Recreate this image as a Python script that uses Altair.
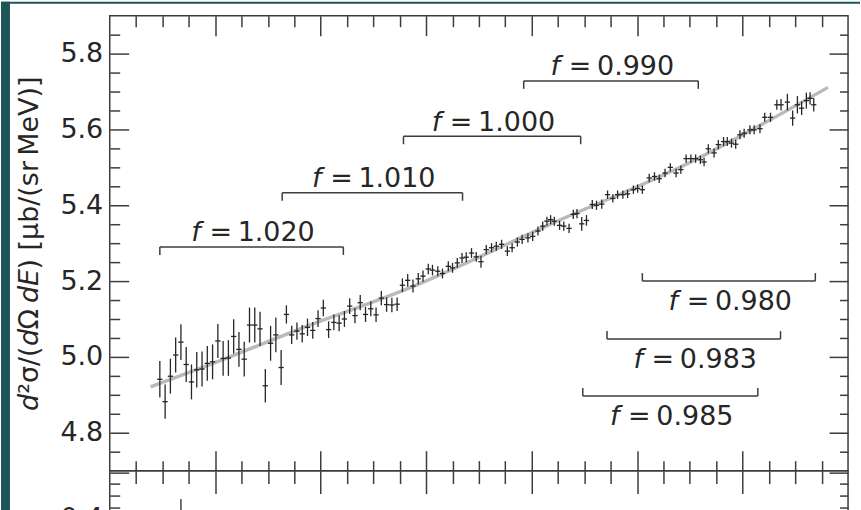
import altair as alt
import pandas as pd

# ---------------------------------------------------------------
# Measured spectrum: bin centres (MeV), cross sections, stat. errors
# ---------------------------------------------------------------
energy = [
    89.5, 90.5, 91.5, 92.5, 93.5, 94.5, 95.5, 96.5, 97.5, 98.5, 99.5, 100.5,
    101.5, 102.5, 103.5, 104.5, 105.5, 106.5, 107.5, 108.5, 109.5, 110.5, 111.5, 112.5,
    113.5, 114.5, 115.5, 116.5, 117.5, 118.5, 119.5, 120.5, 121.5, 122.5, 123.5, 124.5,
    125.5, 126.5, 127.5, 128.5, 129.5, 130.5, 131.5, 132.5, 133.5, 134.5, 135.5, 136.5, 137.5,
    138.5, 139.4, 140.4, 141.2, 142.2, 143.1, 144.2, 145.0, 145.9, 146.8, 147.6, 148.6,
    149.5, 150.4, 151.4, 152.4, 153.3, 154.3, 155.4, 156.3, 157.3, 158.2, 159.3, 160.2,
    161.2, 162.1, 162.9, 163.6, 164.3, 165.3, 166.1, 167.1, 167.9, 168.6, 169.5, 170.4,
    171.5, 172.3, 173.3, 174.4, 175.4, 176.3, 177.3, 178.2, 179.3, 180.1, 181.0, 182.3,
    183.3, 184.2, 185.3, 186.3, 187.4, 188.3, 189.3, 190.2, 191.1, 192.0, 192.7, 193.5,
    194.6, 195.4, 196.4, 197.1, 197.9, 198.7, 199.5, 200.3, 201.4, 202.2, 203.3, 204.2,
    205.3, 206.5, 207.3, 208.5, 209.5, 210.4, 211.2, 212.1, 212.8, 213.5,
]
xsec = [
    4.941, 4.882, 4.949, 5.005, 5.039, 4.980, 4.934, 4.966, 4.968, 4.983, 4.987, 5.042,
    4.996, 4.997, 5.054, 5.020, 4.994, 5.084, 5.084, 5.074, 4.924, 5.036, 5.058, 4.972,
    5.112, 5.058, 5.068, 5.061, 5.078, 5.070, 5.101, 5.129, 5.072, 5.091, 5.089, 5.100,
    5.134, 5.109, 5.143, 5.112, 5.127, 5.111, 5.155, 5.138, 5.137, 5.139, 5.189, 5.202, 5.187,
    5.206, 5.213, 5.232, 5.229, 5.226, 5.220, 5.239, 5.235, 5.248, 5.261, 5.263, 5.274,
    5.264, 5.251, 5.283, 5.288, 5.292, 5.297, 5.279, 5.288, 5.303, 5.310, 5.314, 5.318,
    5.332, 5.345, 5.358, 5.362, 5.358, 5.347, 5.345, 5.339, 5.376, 5.378, 5.351, 5.360,
    5.402, 5.400, 5.403, 5.428, 5.418, 5.428, 5.428, 5.430, 5.441, 5.444, 5.441, 5.472,
    5.476, 5.470, 5.485, 5.500, 5.485, 5.494, 5.523, 5.523, 5.523, 5.520, 5.514, 5.549,
    5.538, 5.560, 5.568, 5.568, 5.564, 5.561, 5.586, 5.590, 5.599, 5.599, 5.602, 5.632,
    5.632, 5.665, 5.665, 5.672, 5.630, 5.665, 5.656, 5.676, 5.682, 5.665,
]
xsec_err = [
    0.048, 0.045, 0.046, 0.046, 0.047, 0.046, 0.046, 0.047, 0.046, 0.046, 0.046, 0.045,
    0.046, 0.047, 0.045, 0.046, 0.046, 0.046, 0.046, 0.045, 0.044, 0.046, 0.046, 0.046,
    0.024, 0.024, 0.023, 0.023, 0.023, 0.022, 0.022, 0.022, 0.022, 0.021, 0.021, 0.021,
    0.021, 0.020, 0.020, 0.020, 0.020, 0.019, 0.019, 0.019, 0.019, 0.018, 0.018, 0.017, 0.017,
    0.015, 0.015, 0.014, 0.014, 0.013, 0.013, 0.013, 0.013, 0.013, 0.013, 0.013, 0.013,
    0.013, 0.016, 0.012, 0.012, 0.012, 0.012, 0.013, 0.012, 0.012, 0.012, 0.012, 0.012,
    0.012, 0.012, 0.012, 0.012, 0.012, 0.012, 0.012, 0.012, 0.012, 0.012, 0.018, 0.014,
    0.012, 0.012, 0.012, 0.011, 0.011, 0.011, 0.011, 0.011, 0.011, 0.011, 0.011, 0.011,
    0.011, 0.011, 0.011, 0.011, 0.011, 0.011, 0.011, 0.011, 0.011, 0.011, 0.011, 0.012,
    0.012, 0.012, 0.012, 0.012, 0.012, 0.012, 0.012, 0.012, 0.012, 0.012, 0.012, 0.012,
    0.012, 0.013, 0.015, 0.022, 0.020, 0.023, 0.018, 0.021, 0.016, 0.018,
]

# Smooth fit through the spectrum
fit_energy = [87.75, 100.0, 116.1, 137.2, 163.4, 189.9, 216.2]
fit_xsec = [4.921, 4.985, 5.074, 5.184, 5.349, 5.512, 5.711]

# Normalisation factors f and the energy ranges they apply to
f_value = ["1.020", "1.010", "1.000", "0.990", "0.980", "0.983", "0.985"]
f_start = [89.5, 112.7, 135.7, 158.5, 181.0, 174.3, 169.7]
f_end = [124.3, 146.9, 169.3, 191.6, 213.8, 207.2, 202.9]
f_level = [5.290, 5.433, 5.582, 5.728, 5.200, 5.047, 4.897]
f_side = ["upper", "upper", "upper", "upper", "lower", "lower", "lower"]

# Lower panel: the one bin whose error bar reaches its top edge
lower_energy = [93.5]
lower_val = [0.40]
lower_err = [0.085]

# ---------------------------------------------------------------
FONT = "DejaVu Sans"
INK = "#262626"
FRAME = "#3d3d3d"
TEAL = "#1d5659"
W, H, H2 = 740, 456, 142
FS = 27

spec = pd.DataFrame({"energy": energy, "xsec": xsec, "err": xsec_err})
fit = pd.DataFrame({"energy": fit_energy, "xsec": fit_xsec})
norm = pd.DataFrame({"f": f_value, "start": f_start, "end": f_end,
                     "level": f_level, "side": f_side})
lower = pd.DataFrame({"energy": lower_energy, "val": lower_val, "err": lower_err})

x_scale = alt.Scale(domain=[80, 220], nice=False, zero=False)
y_scale = alt.Scale(domain=[4.7, 5.9], nice=False, zero=False)
r_scale = alt.Scale(domain=[0.0, 0.607], nice=False, zero=False)

x_minor = list(range(85, 220, 5))
y_minor = [round(4.75 + 0.05 * i, 2) for i in range(23)]
r_minor = [round(0.05 * i, 2) for i in range(1, 13)]

X_MAJOR = "datum.value % 20 === 0"
Y_MAJOR = "abs(datum.value * 5 - round(datum.value * 5)) < 1e-6"


def inner_ticks(orient, offset, values, test, major, minor):
    """Frame ticks pointing into the plot (axis moved onto the opposite edge)."""
    return alt.Axis(orient=orient, offset=offset, values=values, labels=False,
                    domain=False, grid=False, ticks=True, tickColor=FRAME,
                    tickWidth=1.5,
                    tickSize={"condition": {"test": test, "value": major},
                              "value": minor})


Y_TITLE = ("\U0001D625\u00b2\u03c3/(\U0001D625\u03a9\u2009\U0001D625\U0001D60C)"
           " [\u03bcb/(sr\u2009MeV)]")

y_labels = alt.Axis(orient="left", values=[4.8, 5.0, 5.2, 5.4, 5.6, 5.8],
                    format=".1f", ticks=False, tickSize=0, domain=False,
                    grid=False, labelFont=FONT, labelFontSize=FS,
                    labelColor=INK, labelPadding=7, title=Y_TITLE,
                    titleFont=FONT, titleFontSize=FS, titleFontWeight="normal",
                    titleColor=INK, titlePadding=16)

r_labels = alt.Axis(orient="left", values=[0.0, 0.2, 0.4], format=".1f",
                    ticks=False, tickSize=0, domain=False, grid=False,
                    labelFont=FONT, labelFontSize=FS, labelColor=INK,
                    labelPadding=7)

# Slide border strips (left and top)
one = alt.Chart(pd.DataFrame({"k": [0]}))
left_strip = one.mark_rect(color=TEAL).encode(
    x=alt.value(-109), x2=alt.value(-100), y=alt.value(-14), y2=alt.value(H + H2 + 20))
top_strip = one.mark_rect(color=TEAL).encode(
    x=alt.value(-109), x2=alt.value(752), y=alt.value(-14), y2=alt.value(-12))

fit_line = alt.Chart(fit).mark_line(
    color="#bababa", strokeWidth=3.4, interpolate="monotone").encode(
    x=alt.X("energy:Q", scale=x_scale, title=None,
            axis=inner_ticks("bottom", -H, x_minor, X_MAJOR, 20, 11)),
    y=alt.Y("xsec:Q", scale=y_scale, axis=y_labels),
)

vbars = alt.Chart(spec).transform_calculate(
    lo="datum.xsec - datum.err", hi="datum.xsec + datum.err"
).mark_rule(color=INK, strokeWidth=1.3).encode(
    x=alt.X("energy:Q", scale=x_scale, title=None,
            axis=inner_ticks("top", -H, x_minor, X_MAJOR, 20, 10)),
    y=alt.Y("lo:Q", scale=y_scale, title=None,
            axis=inner_ticks("right", -W, y_minor, Y_MAJOR, 19, 10)),
    y2="hi:Q",
)

hbars = alt.Chart(spec).transform_calculate(
    a="datum.energy - 0.5", b="datum.energy + 0.5"
).mark_rule(color=INK, strokeWidth=1.3).encode(
    x=alt.X("a:Q", scale=x_scale, axis=None),
    x2="b:Q",
    y=alt.Y("xsec:Q", scale=y_scale, title=None,
            axis=inner_ticks("left", -W, y_minor, Y_MAJOR, 19, 8.5)),
)

bracket_line = alt.Chart(norm).mark_rule(color=FRAME, strokeWidth=1.5).encode(
    x=alt.X("start:Q", scale=x_scale, axis=None),
    x2="end:Q",
    y=alt.Y("level:Q", scale=y_scale, axis=None),
)

ends = alt.Chart(norm).transform_fold(["start", "end"], as_=["edge", "ex"])
ends_enc = dict(
    x=alt.X("ex:Q", scale=x_scale, axis=None),
    y=alt.Y("level:Q", scale=y_scale, axis=None),
    y2="level:Q",
)
ends_up = ends.transform_filter("datum.side === 'upper'").mark_rule(
    color=FRAME, strokeWidth=1.5, y2Offset=8).encode(**ends_enc)
ends_down = ends.transform_filter("datum.side === 'lower'").mark_rule(
    color=FRAME, strokeWidth=1.5, y2Offset=-8).encode(**ends_enc)

labels = alt.Chart(norm).transform_calculate(mid="(datum.start + datum.end) / 2")
lab_enc = dict(
    x=alt.X("mid:Q", scale=x_scale, axis=None),
    y=alt.Y("level:Q", scale=y_scale, axis=None),
)


def f_text(side, dy):
    """'f = value' label: italic f, equals sign and the value as three pieces."""
    base = labels.transform_filter(f"datum.side === '{side}'")
    common = dict(font=FONT, fontSize=FS, baseline="alphabetic", dy=dy, color=INK)
    f_part = base.mark_text(fontStyle="italic", align="right", dx=-51,
                            **common).encode(text=alt.value("f"), **lab_enc)
    eq_part = base.mark_text(align="center", dx=-31,
                             **common).encode(text=alt.value("="), **lab_enc)
    val_part = base.mark_text(align="left", dx=-14,
                              **common).encode(text="f:N", **lab_enc)
    return [f_part, eq_part, val_part]


top = alt.layer(
    left_strip, top_strip, fit_line, vbars, hbars,
    bracket_line, ends_up, ends_down,
    *f_text("upper", -5.5), *f_text("lower", 29),
).resolve_axis(x="independent", y="independent").properties(width=W, height=H)

low_v = alt.Chart(lower).transform_calculate(
    lo="datum.val - datum.err", hi="datum.val + datum.err"
).mark_rule(color=INK, strokeWidth=1.3).encode(
    x=alt.X("energy:Q", scale=x_scale, title=None,
            axis=inner_ticks("bottom", -H2, x_minor, X_MAJOR, 23, 13)),
    y=alt.Y("lo:Q", scale=r_scale, title=None, axis=r_labels),
    y2="hi:Q",
)
low_h = alt.Chart(lower).transform_calculate(
    a="datum.energy - 0.5", b="datum.energy + 0.5"
).mark_rule(color=INK, strokeWidth=1.3).encode(
    x=alt.X("a:Q", scale=x_scale, axis=None),
    x2="b:Q",
    y=alt.Y("val:Q", scale=r_scale, title=None,
            axis=inner_ticks("right", -W, r_minor, Y_MAJOR, 19, 10)),
)
low_right = alt.Chart(lower).mark_point(opacity=0).encode(
    x=alt.X("energy:Q", scale=x_scale, axis=None),
    y=alt.Y("val:Q", scale=r_scale, title=None,
            axis=inner_ticks("left", -W, r_minor, Y_MAJOR, 19, 8.5)),
)

bottom = alt.layer(low_v, low_h, low_right).resolve_axis(
    x="independent", y="independent").properties(width=W, height=H2)

chart = alt.vconcat(top, bottom, spacing=0, bounds="flush").properties(
    background="white", padding=0
).configure_view(stroke=FRAME, strokeWidth=1.5)

chart.save("out.html", embed_options={"renderer": "svg", "actions": False})
